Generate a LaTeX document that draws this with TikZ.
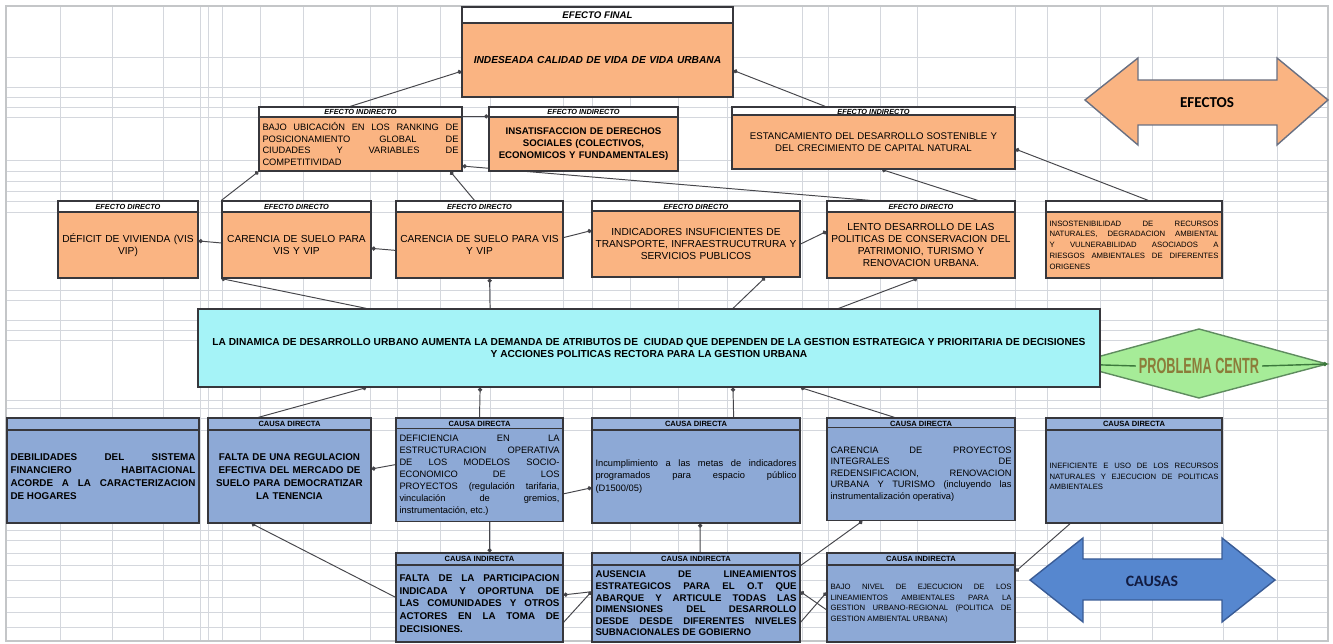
\documentclass[tikz,border=0pt]{standalone}
\usepackage{fontspec}
\setmainfont{Liberation Sans}
\newfontfamily\arrowfont{Carlito}
\usetikzlibrary{arrows.meta}
\usetikzlibrary{calc}
\definecolor{efecto}{RGB}{250,180,130}
\definecolor{causa}{RGB}{141,169,214}
\definecolor{causahead}{RGB}{152,178,220}
\definecolor{central}{RGB}{165,243,247}
\definecolor{boxline}{RGB}{55,55,60}
\definecolor{linkgray}{RGB}{70,70,75}
\definecolor{gridgray}{RGB}{212,215,221}
\definecolor{framegray}{RGB}{196,198,200}
\definecolor{diamondgreen}{RGB}{166,236,152}
\definecolor{diamondedge}{RGB}{95,140,95}
\definecolor{diamondline}{RGB}{60,120,60}
\definecolor{problemtext}{RGB}{140,124,58}
\definecolor{efectoedge}{RGB}{105,112,130}
\definecolor{causaarrow}{RGB}{86,135,207}
\definecolor{causaedge}{RGB}{58,92,150}
\definecolor{navy}{RGB}{18,28,66}
\pgfdeclarelayer{bglayer}
\pgfdeclarelayer{edgelayer}
\pgfdeclarelayer{nodelayer}
\pgfsetlayers{bglayer,edgelayer,nodelayer,main}
\newcommand{\boxfont}{\fontsize{5.3}{6.5}\selectfont}
\newcommand{\directfont}{\fontsize{5.8}{7}\selectfont}
\newcommand{\tinyboxfont}{\fontsize{4.4}{6.1}\selectfont}
\newcommand{\headfont}{\bfseries\itshape\fontsize{4.2}{5}\selectfont}
\newcommand{\causafont}{\bfseries\fontsize{4.3}{5}\selectfont}
\tikzstyle{efhead}=[draw=boxline,fill=white,line width=0.7pt,inner sep=0pt,font=\headfont]
\tikzstyle{efbody}=[draw=boxline,fill=efecto,line width=0.7pt,inner xsep=2pt,inner ysep=1pt,align=center,font=\boxfont]
\tikzstyle{cahead}=[draw=boxline,fill=causahead,line width=0.7pt,inner sep=0pt,font=\causafont]
\tikzstyle{cabody}=[draw=boxline,fill=causa,line width=0.7pt,inner xsep=2pt,inner ysep=1pt,align=justify,font=\boxfont]
\tikzstyle{link}=[draw=linkgray,line width=0.55pt,-{Circle[length=2.4pt]}]
\tikzstyle{gridline}=[draw=gridgray,line width=0.35pt]

\begin{document}
\begin{tikzpicture}[x=0.02cm,y=-0.02cm]
        \useasboundingbox (0,0) rectangle (1333,644);
        \begin{pgfonlayer}{bglayer}
            % spreadsheet grid
            \foreach \gx in {60,112,163,200,208,222,260,303,370,397,440,490,563,592,630,678,727,802,828,880,917,1015,1047,1100,1152,1223,1277}
                \draw [style=gridline] (\gx,7) -- (\gx,640);
            \foreach \gy in {57,87,97,107,117,160,171,181,191,201,212,290,300,320,330,340,400,408,418,430,530,540,553,565,580,597,612,627}
                \draw [style=gridline] (7,\gy) -- (1327,\gy);
            \draw [draw=framegray,line width=1.4pt] (6,6) rectangle (1328,641);
            % block arrows and diamond
            \draw [fill=efecto,draw=efectoedge,line width=0.8pt] (1085,100) -- (1138,58) -- (1138,80) -- (1277,80) -- (1277,58) -- (1328,100) -- (1277,145) -- (1277,125) -- (1138,125) -- (1138,145) -- cycle;
            \draw [fill=causaarrow,draw=causaedge,line width=0.8pt] (1030,580) -- (1083,538) -- (1083,559) -- (1222,559) -- (1222,538) -- (1275,580) -- (1222,622) -- (1222,600) -- (1083,600) -- (1083,622) -- cycle;
            \coordinate (pl) at (1072,364);
            \coordinate (pr) at (1327,364);
            \coordinate (ptop) at (1199,329);
            \coordinate (pbot) at (1199,398);
            \draw [fill=diamondgreen,draw=diamondedge,line width=0.8pt] (pl) -- (ptop) -- (pr) -- (pbot) -- cycle;
        \end{pgfonlayer}

        \begin{pgfonlayer}{nodelayer}
            % efecto final
            \node [style=efhead,minimum width=5.42cm,minimum height=0.32cm,font=\bfseries\itshape\fontsize{5.5}{6}\selectfont] (efh) at (597.5,15) {EFECTO FINAL};
            \node [style=efbody,minimum width=5.42cm,minimum height=1.48cm,text width=5.28cm,font=\bfseries\itshape\fontsize{5.8}{6.5}\selectfont] (ef) at (597.5,60) {INDESEADA CALIDAD DE VIDA DE VIDA URBANA};
            % efectos indirectos
            \node [style=efhead,minimum width=4.06cm,minimum height=0.2cm] (ei1h) at (360.5,112) {EFECTO INDIRECTO};
            \node [style=efbody,minimum width=4.06cm,minimum height=1.08cm,text width=3.92cm,align=justify] (ei1) at (360.5,144) {BAJO UBICACIÓN EN LOS RANKING DE\linebreak POSICIONAMIENTO GLOBAL DE\linebreak CIUDADES Y VARIABLES DE\linebreak COMPETITIVIDAD};
            \node [style=efhead,minimum width=3.78cm,minimum height=0.2cm] (ei2h) at (583.5,112) {EFECTO INDIRECTO};
            \node [style=efbody,minimum width=3.78cm,minimum height=1.08cm,text width=3.64cm,font=\bfseries\fontsize{5.5}{6.8}\selectfont] (ei2) at (583.5,144) {INSATISFACCION DE DERECHOS\\SOCIALES (COLECTIVOS,\\ECONOMICOS Y FUNDAMENTALES)};
            \node [style=efhead,minimum width=5.66cm,minimum height=0.2cm] (ei3h) at (873.5,112) {EFECTO INDIRECTO};
            \node [style=efbody,minimum width=5.66cm,minimum height=1.08cm,text width=5.52cm,font=\fontsize{5.5}{6.8}\selectfont] (ei3) at (873.5,142) {ESTANCAMIENTO DEL DESARROLLO SOSTENIBLE Y\\DEL CRECIMIENTO DE CAPITAL NATURAL};
            % efectos directos
            \node [style=efhead,minimum width=2.8cm,minimum height=0.22cm] (ed1h) at (128,206.5) {EFECTO DIRECTO};
            \node [style=efbody,minimum width=2.8cm,minimum height=1.32cm,text width=2.66cm,font=\directfont] (ed1) at (128,245) {DÉFICIT DE VIVIENDA (VIS\\VIP)};
            \node [style=efhead,minimum width=2.98cm,minimum height=0.22cm] (ed2h) at (296.5,206.5) {EFECTO DIRECTO};
            \node [style=efbody,minimum width=2.98cm,minimum height=1.32cm,text width=2.84cm,font=\directfont] (ed2) at (296.5,245) {CARENCIA DE SUELO PARA\\VIS Y VIP};
            \node [style=efhead,minimum width=3.34cm,minimum height=0.22cm] (ed3h) at (479.5,206.5) {EFECTO DIRECTO};
            \node [style=efbody,minimum width=3.34cm,minimum height=1.32cm,text width=3.2cm,font=\directfont] (ed3) at (479.5,245) {CARENCIA DE SUELO PARA VIS\\Y VIP};
            \node [style=efhead,minimum width=4.16cm,minimum height=0.22cm] (ed4h) at (696,206.5) {EFECTO DIRECTO};
            \node [style=efbody,minimum width=4.16cm,minimum height=1.32cm,text width=4.02cm,font=\directfont] (ed4) at (696,244) {INDICADORES INSUFICIENTES DE\\TRANSPORTE, INFRAESTRUCUTRURA Y\\SERVICIOS PUBLICOS};
            \node [style=efhead,minimum width=3.76cm,minimum height=0.22cm] (ed5h) at (921,206.5) {EFECTO DIRECTO};
            \node [style=efbody,minimum width=3.76cm,minimum height=1.32cm,text width=3.62cm,font=\directfont] (ed5) at (921,245) {LENTO DESARROLLO DE LAS\\POLITICAS DE CONSERVACION DEL\\PATRIMONIO, TURISMO Y\\RENOVACION URBANA.};
            \node [style=efhead,minimum width=3.52cm,minimum height=0.22cm] (ed6h) at (1134,206.5) {};
            \node [style=efbody,minimum width=3.52cm,minimum height=1.32cm,text width=3.38cm,align=justify,font=\tinyboxfont] (ed6) at (1134,245) {INSOSTENIBILIDAD DE RECURSOS\linebreak NATURALES, DEGRADACION AMBIENTAL\linebreak Y VULNERABILIDAD ASOCIADOS A\linebreak RIESGOS AMBIENTALES DE DIFERENTES\linebreak ORIGENES};
            % problema central
            \node [draw=boxline,fill=central,line width=0.7pt,minimum width=18.04cm,minimum height=1.56cm,align=center,font=\bfseries\fontsize{5.8}{6.8}\selectfont] (cen) at (649,348) {LA DINAMICA DE DESARROLLO URBANO AUMENTA LA DEMANDA DE ATRIBUTOS DE \ CIUDAD QUE DEPENDEN DE LA GESTION ESTRATEGICA Y PRIORITARIA DE DECISIONES\\Y ACCIONES POLITICAS RECTORA PARA LA GESTION URBANA};
            \node [inner sep=1.5pt,text=problemtext,font=\bfseries\fontsize{12.5}{13}\selectfont] (prob) at (1199,366) {\scalebox{0.58}[1]{PROBLEMA CENTR}};
            \node [font=\arrowfont\bfseries\fontsize{8.6}{9}\selectfont,text=black] (efectos) at (1207,103) {EFECTOS};
            \node [font=\arrowfont\bfseries\fontsize{9}{9}\selectfont,text=navy] (causas) at (1152,581) {CAUSAS};
            % causas directas
            \node [style=cahead,minimum width=3.84cm,minimum height=0.24cm] (cd1h) at (103,424) {};
            \node [style=cabody,minimum width=3.84cm,minimum height=1.86cm,text width=3.7cm,font=\bfseries\fontsize{5.6}{7.3}\selectfont] (cd1) at (103,476.5) {DEBILIDADES DEL SISTEMA\linebreak FINANCIERO HABITACIONAL\linebreak ACORDE A LA CARACTERIZACION\linebreak DE HOGARES};
            \node [style=cahead,minimum width=3.26cm,minimum height=0.24cm] (cd2h) at (289.5,424) {CAUSA DIRECTA};
            \node [style=cabody,minimum width=3.26cm,minimum height=1.86cm,text width=3.16cm,inner xsep=1pt,align=center,font=\bfseries\fontsize{5.6}{7.3}\selectfont] (cd2) at (289.5,476.5) {FALTA DE UNA REGULACION\\EFECTIVA DEL MERCADO DE\\SUELO PARA DEMOCRATIZAR\\LA TENENCIA};
            \node [style=cahead,minimum width=3.34cm,minimum height=0.24cm] (cd3h) at (479.5,424) {CAUSA DIRECTA};
            \node [style=cabody,minimum width=3.34cm,minimum height=1.86cm,text width=3.2cm,font=\fontsize{5.3}{6.8}\selectfont] (cd3) at (479.5,475) {DEFICIENCIA EN LA\linebreak ESTRUCTURACION OPERATIVA\linebreak DE LOS MODELOS SOCIO-\linebreak ECONOMICO DE LOS\linebreak PROYECTOS (regulación tarifaria,\linebreak vinculación de gremios,\linebreak instrumentación, etc.)};
            \node [style=cahead,minimum width=4.16cm,minimum height=0.24cm] (cd4h) at (696,424) {CAUSA DIRECTA};
            \node [style=cabody,minimum width=4.16cm,minimum height=1.86cm,text width=4.02cm,font=\fontsize{5.3}{7}\selectfont] (cd4) at (696,476.5) {Incumplimiento a las metas de indicadores\linebreak programados para espacio público\linebreak (D1500/05)};
            \node [style=cahead,minimum width=3.76cm,minimum height=0.24cm] (cd5h) at (921,424) {CAUSA DIRECTA};
            \node [style=cabody,minimum width=3.76cm,minimum height=1.86cm,text width=3.62cm] (cd5) at (921,474) {CARENCIA DE PROYECTOS\linebreak INTEGRALES DE\linebreak REDENSIFICACION, RENOVACION\linebreak URBANA Y TURISMO (incluyendo las\linebreak instrumentalización operativa)};
            \node [style=cahead,minimum width=3.52cm,minimum height=0.24cm] (cd6h) at (1134,424) {CAUSA DIRECTA};
            \node [style=cabody,minimum width=3.52cm,minimum height=1.86cm,text width=3.38cm,font=\tinyboxfont] (cd6) at (1134,476.5) {INEFICIENTE E USO DE LOS RECURSOS\linebreak NATURALES Y EJECUCION DE POLITICAS\linebreak AMBIENTALES};
            % causas indirectas
            \node [style=cahead,minimum width=3.34cm,minimum height=0.24cm] (ci1h) at (479.5,559) {CAUSA INDIRECTA};
            \node [style=cabody,minimum width=3.34cm,minimum height=1.54cm,text width=3.2cm,font=\bfseries\fontsize{5.6}{7.2}\selectfont] (ci1) at (479.5,603.5) {FALTA DE LA PARTICIPACION\linebreak INDICADA Y OPORTUNA DE\linebreak LAS COMUNIDADES Y OTROS\linebreak ACTORES EN LA TOMA DE\linebreak DECISIONES.};
            \node [style=cahead,minimum width=4.16cm,minimum height=0.24cm] (ci2h) at (696,559) {CAUSA INDIRECTA};
            \node [style=cabody,minimum width=4.16cm,minimum height=1.54cm,text width=4.02cm,font=\bfseries\fontsize{5.5}{6.6}\selectfont] (ci2) at (696,603.5) {AUSENCIA DE LINEAMIENTOS\linebreak ESTRATEGICOS PARA EL O.T QUE\linebreak ABARQUE Y ARTICULE TODAS LAS\linebreak DIMENSIONES DEL DESARROLLO\linebreak DESDE DESDE DIFERENTES NIVELES\linebreak SUBNACIONALES DE GOBIERNO};
            \node [style=cahead,minimum width=3.76cm,minimum height=0.24cm] (ci3h) at (921,559) {CAUSA INDIRECTA};
            \node [style=cabody,minimum width=3.76cm,minimum height=1.54cm,text width=3.62cm,font=\tinyboxfont] (ci3) at (921,603.5) {BAJO NIVEL DE EJECUCION DE LOS\linebreak LINEAMIENTOS AMBIENTALES PARA LA\linebreak GESTION URBANO-REGIONAL (POLITICA DE\linebreak GESTION AMBIENTAL URBANA)};
        \end{pgfonlayer}

        \begin{pgfonlayer}{edgelayer}
            % efectos
            \draw [style=link] ($(ei1h.north west)!.45!(ei1h.north east)$) to ($(ef.north west)!.65!(ef.south west)$);
            \draw [style=link] ($(ei3h.north west)!.33!(ei3h.north east)$) to ($(ef.north east)!.64!(ef.south east)$);
            \draw [style=link] ($(ed6h.north west)!.58!(ed6h.north east)$) to ($(ei3.north east)!.63!(ei3.south east)$);
            \draw [style=link] ($(ed5h.north west)!.80!(ed5h.north east)$) to ($(ei3.south west)!.53!(ei3.south east)$);
            \draw [style=link] ($(ed5h.north west)!.23!(ed5h.north east)$) to ($(ei1.north east)!.9!(ei1.south east)$);
            \draw [style=link] ($(ed3h.north west)!.47!(ed3h.north east)$) to ($(ei1.south west)!.94!(ei1.south east)$);
            \draw [style=link] (ed2h.north west) to (ei1.south west);
            \draw [style=link] (ei1.north east) to (ei2.north west);
            \draw [style=link] ($(ed2.north west)!.47!(ed2.south west)$) to ($(ed1.north east)!.44!(ed1.south east)$);
            \draw [style=link] ($(ed3.north west)!.58!(ed3.south west)$) to ($(ed2.north east)!.55!(ed2.south east)$);
            \draw [style=link] ($(ed3.north east)!.39!(ed3.south east)$) to ($(ed4.north west)!.30!(ed4.south west)$);
            \draw [style=link] ($(ed4.north east)!.5!(ed4.south east)$) to ($(ed5.north west)!.30!(ed5.south west)$);
            \draw [style=link] ($(cen.north west)!.187!(cen.north east)$) to (ed2.south west);
            \draw [style=link] ($(cen.north west)!.324!(cen.north east)$) to ($(ed3.south west)!.56!(ed3.south east)$);
            \draw [style=link] ($(cen.north west)!.593!(cen.north east)$) to ($(ed4.south west)!.83!(ed4.south east)$);
            \draw [style=link] ($(cen.north west)!.71!(cen.north east)$) to ($(ed5.south west)!.48!(ed5.south east)$);
            % problema central
            \draw [style=link,draw=diamondline,line width=0.8pt] (prob.west) to (pl);
            \draw [style=link,draw=diamondline,line width=0.8pt] (prob.east) to (pr);
            % causas
            \draw [style=link] ($(cd2h.north west)!.31!(cd2h.north east)$) to ($(cen.south west)!.187!(cen.south east)$);
            \draw [style=link] ($(cd3h.north west)!.5!(cd3h.north east)$) to ($(cen.south west)!.313!(cen.south east)$);
            \draw [style=link] ($(cd4h.north west)!.68!(cd4h.north east)$) to ($(cen.south west)!.593!(cen.south east)$);
            \draw [style=link] ($(cd5h.north west)!.36!(cd5h.north east)$) to ($(cen.south west)!.668!(cen.south east)$);
            \draw [style=link] ($(cd3.north west)!.39!(cd3.south west)$) to ($(cd2.north east)!.42!(cd2.south east)$);
            \draw [style=link] ($(cd3.north east)!.70!(cd3.south east)$) to ($(cd4.north west)!.62!(cd4.south west)$);
            \draw [style=link] ($(cd3.south west)!.56!(cd3.south east)$) to ($(ci1h.north west)!.56!(ci1h.north east)$);
            \draw [style=link] ($(ci2h.north west)!.52!(ci2h.north east)$) to ($(cd4.south west)!.52!(cd4.south east)$);
            \draw [style=link] (ci2h.south east) to ($(cd5.south west)!.19!(cd5.south east)$);
            \draw [style=link] ($(ci1.north west)!.42!(ci1.south west)$) to ($(cd2.south west)!.27!(cd2.south east)$);
            \draw [style=link] ($(ci2.north west)!.35!(ci2.south west)$) to ($(ci1.north east)!.39!(ci1.south east)$);
            \draw [style=link] ($(ci1.north east)!.74!(ci1.south east)$) to ($(ci2.north west)!.35!(ci2.south west)$);
            \draw [style=link] ($(ci3.north west)!.58!(ci3.south west)$) to ($(ci2.north east)!.35!(ci2.south east)$);
            \draw [style=link] ($(ci2.north east)!.74!(ci2.south east)$) to ($(ci3.north west)!.36!(ci3.south west)$);
            \draw [style=link] ($(cd6.south west)!.14!(cd6.south east)$) to ($(ci3.north east)!.09!(ci3.south east)$);
        \end{pgfonlayer}
\end{tikzpicture}
\end{document}
